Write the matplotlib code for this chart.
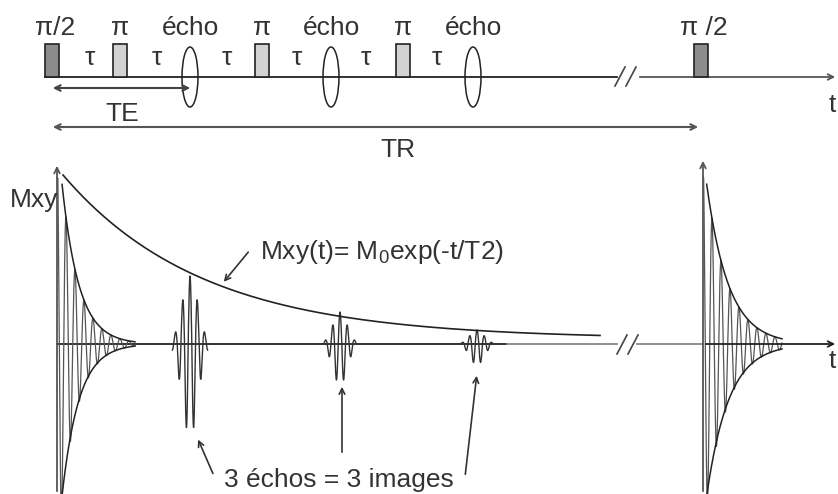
import numpy as np
import matplotlib.pyplot as plt
from matplotlib.patches import Rectangle, Ellipse

plt.rcParams['font.family'] = ['Liberation Sans', 'DejaVu Sans']
plt.rcParams['mathtext.fontset'] = 'custom'
plt.rcParams['mathtext.rm'] = 'Liberation Sans'

# --- pulse sequence (time axis in drawing units) ---
pulse90_t = [52, 701]
pulse180_t = [120, 262, 403]
echo_t = [190, 331, 473]
tau_t = [90, 157, 227, 297, 366, 437]
pulse90_labels = ['π/2', 'π /2']

# --- signal ---
fid_start = [57, 703]
fid_end = [135, 782]
fid_ref_t = [70, 717]      # envelope reference point
fid_amp = [100, 100]       # amplitude at reference point
fid_tau = [17, 22]
fid_period = 9

echo_center = [190, 340, 477]
echo_up = [68, 32, 14]
echo_down = [93, 41, 21]
echo_width = [11, 10, 10]
echo_period = 7.3

m0 = 164
t2 = 140
t2_floor = 5
t2_start, t2_end = 63, 600

line_y = 77
base_y = 344
dark = '#222222'
txt = '#333333'
fs = 19

fig = plt.figure(figsize=(8.38, 4.94), dpi=100)
ax = fig.add_axes([0, 0, 1, 1])
ax.set_xlim(0, 838)
ax.set_ylim(494, 0)
ax.axis('off')

# ---------- top: sequence ----------
ax.plot([45, 617], [line_y, line_y], color=dark, lw=1.3)
ax.annotate('', xy=(838, line_y), xytext=(637, line_y),
            arrowprops=dict(arrowstyle='->', color='#555555', lw=1.3))
for dx in (0, 11):
    ax.plot([615 + dx, 625 + dx], [86, 67], color='#444444', lw=1.2)

for t, lab in zip(pulse90_t, pulse90_labels):
    ax.add_patch(Rectangle((t - 7, 44), 14, line_y - 44, fc='#8c8c8c', ec=dark, lw=1.2, zorder=3))
    ax.text(t + 3, 35, lab, ha='center', va='baseline', fontsize=fs, color=txt)
for t in pulse180_t:
    ax.add_patch(Rectangle((t - 7, 44), 14, line_y - 44, fc='#d3d3d3', ec=dark, lw=1.2, zorder=3))
    ax.text(t, 35, 'π', ha='center', va='baseline', fontsize=fs, color=txt)
for t in echo_t:
    ax.add_patch(Ellipse((t, line_y), 16, 60, fill=False, ec=dark, lw=1.1, zorder=3))
    ax.text(t, 35, 'écho', ha='center', va='baseline', fontsize=fs, color=txt)
for t in tau_t:
    ax.text(t, 65, 'τ', ha='center', va='baseline', fontsize=fs, color=txt)
ax.text(829, 112, 't', ha='left', va='baseline', fontsize=fs, color=txt)

# TE / TR
ax.annotate('', xy=(50, 88), xytext=(193, 88),
            arrowprops=dict(arrowstyle='<->', color='#444444', lw=1.5))
ax.text(122, 121, 'TE', ha='center', va='baseline', fontsize=fs, color=txt)
ax.annotate('', xy=(50, 127), xytext=(701, 127),
            arrowprops=dict(arrowstyle='<->', color='#555555', lw=1.5))
ax.text(398, 157, 'TR', ha='center', va='baseline', fontsize=fs, color=txt)

# ---------- bottom: signal ----------
ax.plot([57, 507], [base_y, base_y], color=dark, lw=1.3)
ax.plot([507, 617], [base_y, base_y], color='#888888', lw=1.3)
ax.plot([637, 703], [base_y, base_y], color='#888888', lw=1.3)
ax.annotate('', xy=(838, base_y), xytext=(703, base_y),
            arrowprops=dict(arrowstyle='->', color=dark, lw=1.3))
for dx in (0, 11):
    ax.plot([617 + dx, 627 + dx], [354, 335], color='#444444', lw=1.2)
ax.text(829, 368, 't', ha='left', va='baseline', fontsize=fs, color=txt)

for x0 in fid_start:
    ax.annotate('', xy=(x0, 158 if x0 > 400 else 163), xytext=(x0, 494),
                arrowprops=dict(arrowstyle='->', color='#555555', lw=1.3))
ax.text(10, 207, 'Mxy', ha='left', va='baseline', fontsize=fs, color=txt)

# FIDs
for x0, x1, xr, a, tau in zip(fid_start, fid_end, fid_ref_t, fid_amp, fid_tau):
    x = np.linspace(x0, x1, 1500)
    env = a * np.exp(-(x - xr) / tau)
    s = np.clip(env * np.cos(2 * np.pi * (x - x0) / fid_period), -152, 166)
    ax.plot(x, base_y - s, color='#555555', lw=0.9)
    xe = x[env < 160]
    ee = a * np.exp(-(xe - xr) / tau)
    ax.plot(xe, base_y - ee, color=dark, lw=1.1)
    ax.plot(xe, base_y + ee * 0.95, color=dark, lw=1.1)

# echoes
for c, up, dn, w in zip(echo_center, echo_up, echo_down, echo_width):
    x = np.linspace(c - 1.6 * w, c + 1.6 * w, 600)
    s = np.exp(-((x - c) / w) ** 2) * np.cos(2 * np.pi * (x - c) / echo_period)
    s = np.where(s > 0, s * up, s * dn)
    ax.plot(x, base_y - s, color='#333333', lw=1.0)

# T2 decay envelope
xt = np.linspace(t2_start, t2_end, 400)
ax.plot(xt, base_y - (m0 * np.exp(-(xt - t2_start) / t2) + t2_floor), color=dark, lw=1.2)
ax.text(260, 259, 'Mxy(t)= M$_{\\mathrm{0}}$exp(-t/T2)', ha='left', va='baseline', fontsize=fs, color=txt)
ax.annotate('', xy=(222, 284), xytext=(250, 250),
            arrowprops=dict(arrowstyle='->', color='#333333', lw=1.2))

# echo labels
ax.text(339, 487, '3 échos = 3 images', ha='center', va='baseline', fontsize=fs, color=txt)
ax.annotate('', xy=(197, 437), xytext=(214, 476),
            arrowprops=dict(arrowstyle='->', color='#333333', lw=1.2))
ax.annotate('', xy=(342, 384), xytext=(342, 455),
            arrowprops=dict(arrowstyle='->', color='#333333', lw=1.2))
ax.annotate('', xy=(477, 373), xytext=(465, 477),
            arrowprops=dict(arrowstyle='->', color='#333333', lw=1.2))

fig.savefig('out.png', dpi=100)
